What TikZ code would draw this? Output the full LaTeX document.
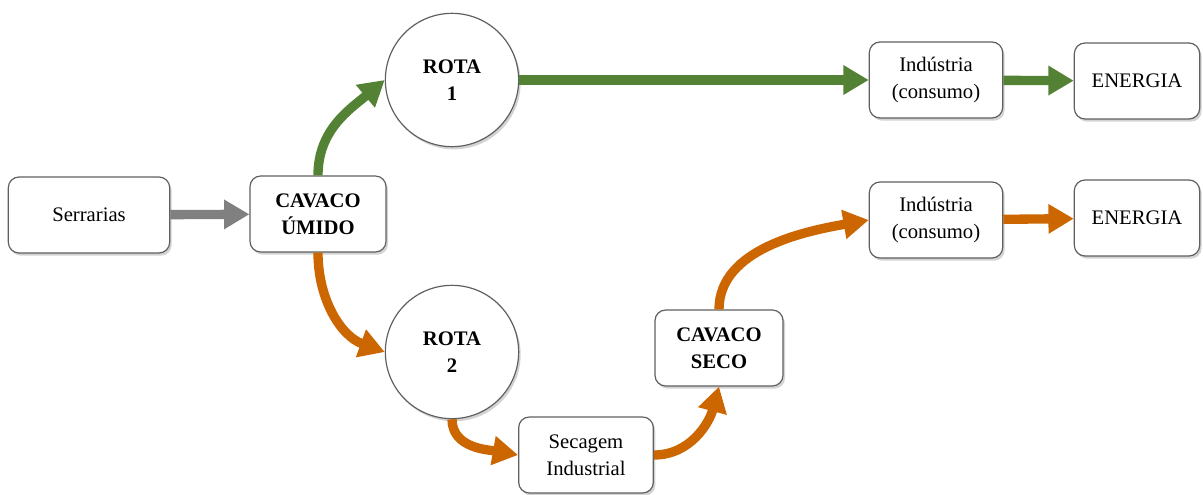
\documentclass[tikz,border=0pt]{standalone}
\usepackage{fontspec}
\setmainfont{Liberation Serif}
\usetikzlibrary{positioning,arrows.meta,shadows}
\definecolor{verde}{RGB}{84,130,53}
\definecolor{laranja}{RGB}{204,102,0}
\definecolor{cinza}{RGB}{128,128,128}
\tikzstyle{caixa} = [draw=gray!75!black, line width=0.9pt, fill=white, rounded corners=8pt, align=center, inner sep=2pt, minimum height=57pt, font=\rmfamily\fontsize{15.5}{20}\selectfont, drop shadow={shadow xshift=1.5pt, shadow yshift=-2pt, opacity=0.35}]
\tikzstyle{rota} = [draw=gray!75!black, line width=0.9pt, fill=white, circle, minimum size=100pt, align=center, font=\rmfamily\fontsize{15.5}{20}\selectfont\bfseries, drop shadow={shadow xshift=1.5pt, shadow yshift=-2pt, opacity=0.35}]
\tikzstyle{seta} = [line width=7pt, -{Triangle[length=19pt,width=21pt]}]

\begin{document}
\begin{tikzpicture}[x=0.75pt, y=-0.75pt]
    \useasboundingbox (0,0) rectangle (1203,495);

    \node (ser) [caixa, minimum width=121pt] at (89,215) {Serrarias};

    \node (umido) [caixa, minimum width=102pt, font=\rmfamily\fontsize{15.5}{20}\selectfont\bfseries] at (318,214) {CAVACO\\ÚMIDO};
    \draw [seta, cinza] (ser) -- (umido);

    \node (r1) [rota] at (452,80) {ROTA\\1}; % rota 1: cavaco direto para a industria
    \draw [seta, verde] (umido.north) to[out=90, in=220] (r1.west);

    \node (ind1) [caixa, minimum width=100pt] at (936,80) {Indústria\\(consumo)};
    \draw [seta, verde] (r1.east) -- (ind1.west);

    \node (en1) [caixa, minimum width=94pt] at (1137,81) {ENERGIA};
    \draw [seta, verde] (ind1) -- (en1);

    \node (r2) [rota] at (452,352) {ROTA\\2}; % rota 2: passa pela secagem
    \draw [seta, laranja] (umido.south) to[out=-90, in=160] (r2.west);

    \node (sec) [caixa, minimum width=101pt] at (586,455) {Secagem\\Industrial};
    \draw [seta, laranja] (r2.south) to[out=-90, in=170] (sec.west);

    \node (seco) [caixa, minimum width=96pt, font=\rmfamily\fontsize{15.5}{20}\selectfont\bfseries] at (719,348) {CAVACO\\SECO};
    \draw [seta, laranja] (sec.east) to[out=0, in=255] (seco.south);

    \node (ind2) [caixa, minimum width=100pt] at (936,220) {Indústria\\(consumo)};
    \draw [seta, laranja] (seco.north) to[out=90, in=190, looseness=0.9] (ind2.west);

    \node (en2) [caixa, minimum width=94pt] at (1137,218) {ENERGIA};
    \draw [seta, laranja] (ind2) -- (en2);
\end{tikzpicture}
\end{document}
